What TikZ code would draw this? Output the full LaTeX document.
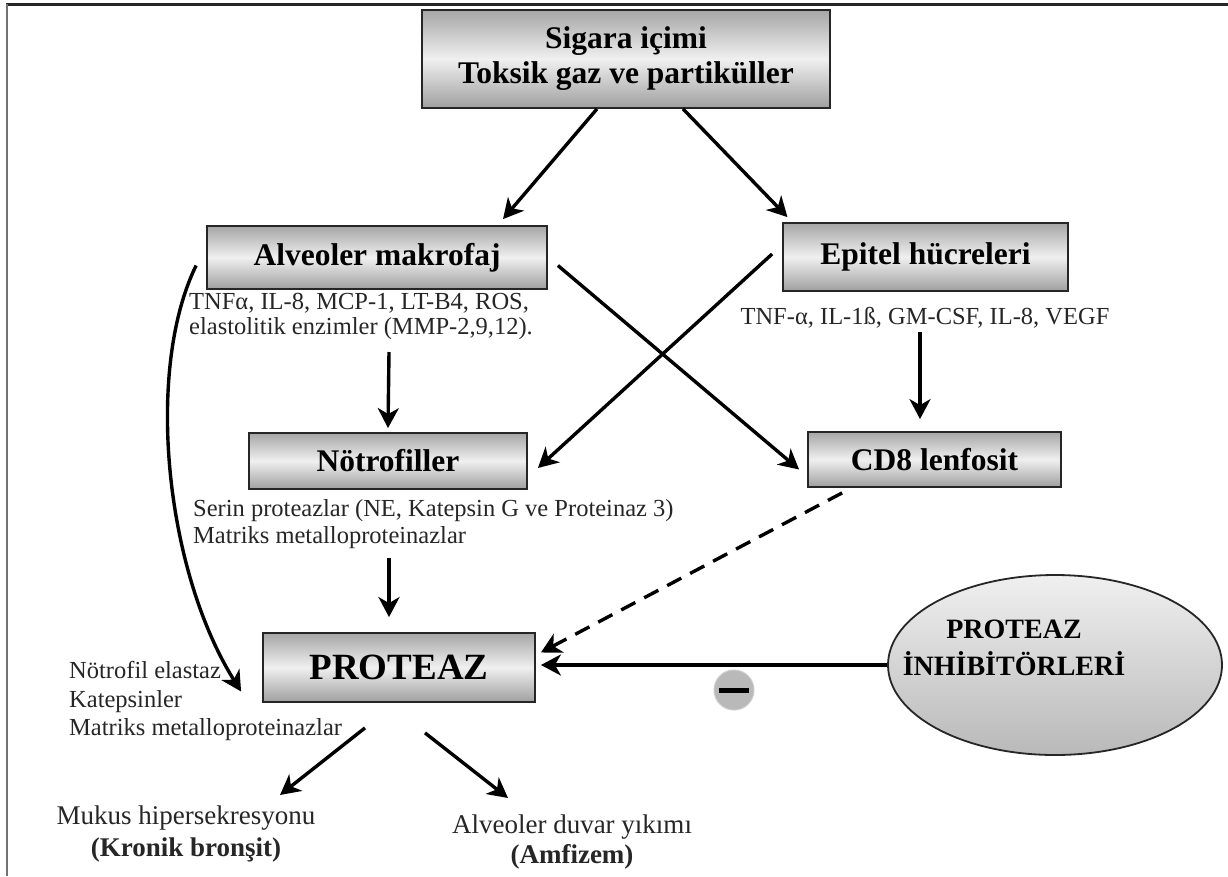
\documentclass[tikz,border=0pt]{standalone}
\usepackage{fontspec}
\setmainfont{Liberation Serif}
\usetikzlibrary{arrows.meta,shapes.geometric}
\begin{document}
\begin{tikzpicture}[x=1pt,y=-1pt,
  box/.style={draw=black!85, line width=1.8pt, top color=gray!70, bottom color=gray!75, middle color=gray!12,
    font=\bfseries\fontsize{31.5}{35}\selectfont, align=center, inner sep=0pt},
  small/.style={font=\fontsize{24.5}{26}\selectfont, inner sep=0pt, text=black!85},
  big/.style={font=\fontsize{27}{32}\selectfont, inner sep=0pt, align=center, text=black!85},
  arr/.style={line width=3.4pt, -{Stealth[length=20pt,width=21pt,inset=6pt]}},
]
\useasboundingbox (0,0) rectangle (1228,876);
\fill[white] (0,0) rectangle (1228,876);
% frame
\draw[line width=3pt, black!85] (6,4) -- (1228,4);
\draw[line width=2pt, black!55] (7,4) -- (7,876);

% boxes
\node[box, minimum width=408pt, minimum height=98pt] (smoke) at (626,59) {Sigara içimi\\Toksik gaz ve partiküller};
\node[box, minimum width=340pt, minimum height=63pt] (alv) at (377,257.5) {Alveoler makrofaj};
\node[box, minimum width=285pt, minimum height=68pt] (epi) at (925.5,257) {Epitel hücreleri};
\node[box, minimum width=278pt, minimum height=56pt] (not) at (388,461) {Nötrofiller};
\node[box, minimum width=253pt, minimum height=55pt] (cd8) at (934.5,459.5) {CD8 lenfosit};
\node[box, minimum width=272pt, minimum height=69pt, font=\bfseries\fontsize{37}{40}\selectfont] (prot) at (399,667.5) {PROTEAZ};

\node[ellipse, draw=black!85, line width=1.8pt, top color=gray!12, bottom color=gray!55,
  minimum width=334pt, minimum height=180pt, inner sep=0pt] (inh) at (1055,665) {};
\node[font=\bfseries\fontsize{28}{37}\selectfont, align=center, inner sep=0pt] (inhtext) at (1014,648) {PROTEAZ\\İNHİBİTÖRLERİ};

% text labels
\node[small, align=left, anchor=west, font=\fontsize{24.5}{25}\selectfont] (mac) at (189,316) {TNFα, IL-8, MCP-1, LT-B4, ROS,\\elastolitik enzimler (MMP-2,9,12).};
\node[small] (epit) at (925,318) {TNF-α, IL-1ß, GM-CSF, IL-8, VEGF};
\node[small, align=left, anchor=west, font=\fontsize{24.5}{27}\selectfont] (nott) at (193,524) {Serin proteazlar (NE, Katepsin G ve Proteinaz 3)\\Matriks metalloproteinazlar};
\node[small, align=left, anchor=west, font=\fontsize{24.5}{28.5}\selectfont] (list) at (69,701) {Nötrofil elastaz\\Katepsinler\\Matriks metalloproteinazlar};
\node[big] (mukus) at (186,834) {Mukus hipersekresyonu\\\textbf{(Kronik bronşit)}};
\node[big, font=\fontsize{27}{30}\selectfont] (duvar) at (572,842) {Alveoler duvar yıkımı\\\textbf{(Amfizem)}};

% free-end coordinates
\coordinate (c1) at (389,352);
\coordinate (c2) at (920,332);
\coordinate (c3) at (389,558);
\coordinate (c4) at (280,795);
\coordinate (c5) at (508,798);

% connectors
\draw[arr] ([xshift=-29pt]smoke.south) -- ([xshift=126pt,yshift=6pt]alv.north);
\draw[arr] ([xshift=57pt]smoke.south) -- ([xshift=-138pt,yshift=5pt]epi.north);
\draw[arr] ([xshift=10pt,yshift=-8pt]alv.east) -- ([xshift=-8pt,yshift=-10pt]cd8.west);
\draw[arr] ([xshift=-10pt,yshift=3pt]epi.west) -- ([xshift=10pt,yshift=-7pt]not.east);
\draw[arr] (c1) -- ([yshift=4pt]not.north);
\draw[arr] (c2) -- ([yshift=12pt]c2 |- cd8.north);
\draw[arr] (c3) -- ([yshift=15pt]prot.north -| c3);
\draw[arr, dashed, dash pattern=on 16pt off 10pt] ([xshift=35pt,yshift=-5pt]cd8.south west) -- ([xshift=5pt,yshift=15pt]prot.east);
\draw[arr] (inh.west) -- ([xshift=5pt]inh.west -| prot.east);
\draw[arr] ([xshift=-10pt,yshift=-8pt]alv.west) .. controls (145,370) and (165,570) .. ([xshift=-21pt,yshift=-24pt]prot.west);
\draw[arr] ([xshift=-34pt,yshift=-25pt]prot.south) -- (c4);
\draw[arr] ([xshift=26pt,yshift=-30pt]prot.south) -- (c5);

% inhibition sign
\node[circle, minimum size=40pt, inner sep=0pt, fill=gray!55, draw=gray!40, line width=1pt] (minus) at (734,690) {};
\draw[line width=5pt, black] ([xshift=-15pt]minus.center) -- ([xshift=15pt]minus.center);
\end{tikzpicture}
\end{document}
